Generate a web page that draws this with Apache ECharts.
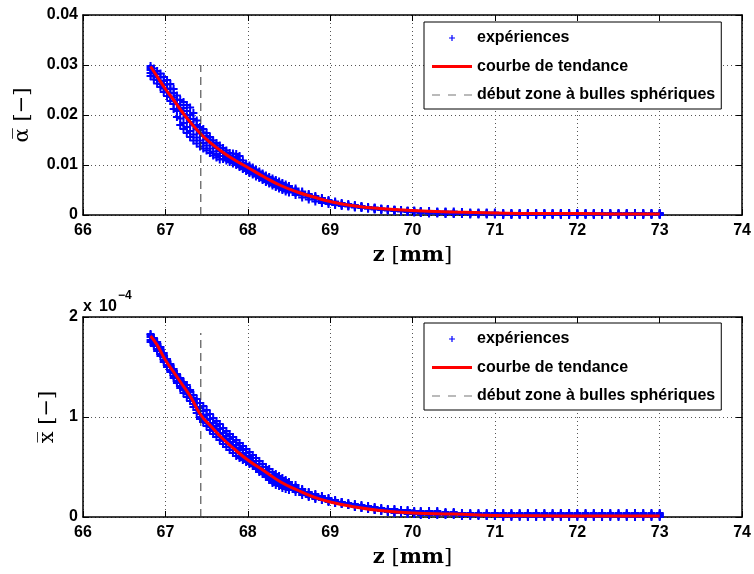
<!DOCTYPE html>
<html>
<head>
<meta charset="utf-8">
<script src="https://cdn.jsdelivr.net/npm/echarts@6/dist/echarts.min.js"></script>
<style>
  html, body { margin: 0; padding: 0; background: #fff; }
  #demo { width: 754px; height: 574px; }
</style>
</head>
<body>
<div id="demo"></div>
<script>
// positions z [mm] des points de mesure
var zExp = [66.82,66.86,66.90,66.94,66.98,67.02,67.06,67.10,67.14,67.18,67.22,67.26,67.30,67.34,67.38,67.42,67.46,67.50,67.54,67.58,67.62,67.66,67.70,67.74,67.78,67.82,67.86,67.90,67.94,67.98,68.02,68.06,68.10,68.14,68.18,68.22,68.26,68.30,68.34,68.38,68.42,68.46,68.50,
  68.58,68.66,68.74,68.82,68.90,68.98,69.06,69.14,69.22,69.30,69.38,69.46,69.54,69.62,69.70,69.78,69.86,69.94,70.02,
  70.1,70.2,70.3,70.4,70.5,70.6,70.7,70.8,70.9,71.0,71.1,71.2,71.3,71.4,71.5,71.6,71.7,71.8,71.9,72.0,72.1,72.2,72.3,72.4,72.5,72.6,72.7,72.8,72.9,73.0];

// alpha : nuage de points, du haut vers le bas
var alphaHaut = [0.0298,0.0293,0.0288,0.0283,0.0276,0.0270,0.0262,0.0252,0.0239,0.0230,0.0226,0.0220,0.0215,0.0204,0.0189,0.0176,0.0172,0.0164,0.0156,0.0149,0.0144,0.0139,0.0134,0.0129,0.0124,0.0123,0.0122,0.0118,0.0109,0.0102,0.0099,0.0095,0.0091,0.0087,0.0083,0.0079,0.0076,0.0073,0.0070,0.0067,0.0064,0.0061,0.0058,
  0.0053,0.0047,0.0042,0.0038,0.0034,0.0030,0.0027,0.0024,0.0022,0.0020,0.0018,0.0016,0.0015,0.0013,0.0012,0.0011,0.0010,0.0009,0.0009,
  0.0008,0.0008,0.0007,0.0007,0.0007,0.0006,0.0005,0.0005,0.0005,0.0005,0.0004,0.0004,0.0004,0.0004,0.0004,0.0004,0.0004,0.0004,0.0004,0.0004,0.0004,0.0004,0.0004,0.0004,0.0004,0.0004,0.0004,0.0004,0.0004,0.0004];
var alphaQ1 = [0.0294,0.0288,0.0282,0.0276,0.0268,0.0261,0.0253,0.0244,0.0231,0.0220,0.0214,0.0208,0.0200,0.0192,0.0180,0.0170,0.0165,0.0158,0.0151,0.0144,0.0139,0.0134,0.0129,0.0124,0.0119,0.0117,0.0114,0.0110,0.0104,0.0099,0.0096,0.0092,0.0088,0.0084,0.0080,0.0076,0.0073,0.0070,0.0067,0.0064,0.0061,0.0058,0.0055,
  0.0050,0.0045,0.0040,0.0036,0.0032,0.0028,0.0025,0.0022,0.0020,0.0018,0.0017,0.0015,0.0014,0.0012,0.0011,0.0010,0.0009,0.0008,0.0008,
  0.0007,0.0007,0.0006,0.0006,0.0005,0.0005,0.0004,0.0004,0.0004,0.0004,0.0003,0.0003,0.0003,0.0003,0.0003,0.0003,0.0003,0.0003,0.0003,0.0003,0.0003,0.0003,0.0003,0.0003,0.0003,0.0003,0.0003,0.0003,0.0003,0.0003];
var alphaMilieu = [0.0290,0.0283,0.0276,0.0268,0.0260,0.0252,0.0244,0.0235,0.0222,0.0210,0.0202,0.0195,0.0186,0.0179,0.0171,0.0163,0.0158,0.0151,0.0145,0.0139,0.0134,0.0128,0.0124,0.0119,0.0114,0.0110,0.0106,0.0102,0.0099,0.0096,0.0092,0.0088,0.0084,0.0080,0.0077,0.0073,0.0070,0.0066,0.0063,0.0060,0.0057,0.0054,0.0051,
  0.0047,0.0042,0.0038,0.0034,0.0030,0.0027,0.0024,0.0021,0.0019,0.0017,0.0016,0.0014,0.0013,0.0012,0.0011,0.0010,0.0009,0.0008,0.0007,
  0.0006,0.0005,0.0005,0.0005,0.0004,0.0004,0.0003,0.0003,0.0003,0.0003,0.0002,0.0002,0.0002,0.0002,0.0002,0.0002,0.0002,0.0002,0.0002,0.0002,0.0002,0.0002,0.0002,0.0002,0.0002,0.0002,0.0002,0.0002,0.0002,0.0002];
var alphaQ3 = [0.0284,0.0277,0.0270,0.0262,0.0253,0.0245,0.0236,0.0222,0.0208,0.0193,0.0184,0.0176,0.0168,0.0161,0.0155,0.0149,0.0144,0.0139,0.0133,0.0127,0.0122,0.0118,0.0118,0.0114,0.0110,0.0106,0.0103,0.0099,0.0095,0.0092,0.0088,0.0084,0.0080,0.0077,0.0073,0.0069,0.0066,0.0062,0.0059,0.0056,0.0053,0.0050,0.0048,
  0.0044,0.0039,0.0035,0.0031,0.0027,0.0025,0.0022,0.0020,0.0018,0.0016,0.0015,0.0013,0.0012,0.0011,0.0010,0.0009,0.0008,0.0007,0.0006,
  0.0005,0.0004,0.0004,0.0003,0.0003,0.0003,0.0002,0.0002,0.0002,0.0002,0.0001,0.0001,0.0001,0.0001,0.0001,0.0001,0.0001,0.0001,0.0001,0.0001,0.0001,0.0001,0.0001,0.0001,0.0001,0.0001,0.0001,0.0001,0.0001,0.0001];
var alphaBas = [0.0278,0.0271,0.0263,0.0256,0.0246,0.0238,0.0228,0.0212,0.0196,0.0180,0.0172,0.0164,0.0156,0.0149,0.0143,0.0137,0.0133,0.0129,0.0124,0.0119,0.0115,0.0111,0.0112,0.0109,0.0106,0.0103,0.0100,0.0096,0.0092,0.0088,0.0084,0.0081,0.0077,0.0074,0.0070,0.0066,0.0063,0.0059,0.0056,0.0053,0.0050,0.0047,0.0045,
  0.0040,0.0035,0.0031,0.0027,0.0024,0.0022,0.0020,0.0018,0.0017,0.0015,0.0014,0.0013,0.0011,0.0010,0.0009,0.0008,0.0007,0.0006,0.0005,
  0.0004,0.0003,0.0003,0.0002,0.0002,0.0002,0.0001,0.0001,0.0001,0.0001,0,0,0,0,0,0,0,0,0,0,0,0,0,0,0,0,0,0,0,0];

// x (en 1e-4) : nuage de points, du haut vers le bas
var xHaut = [1.83,1.79,1.75,1.70,1.64,1.58,1.53,1.48,1.43,1.39,1.35,1.32,1.27,1.22,1.18,1.14,1.11,1.07,1.03,0.99,0.96,0.93,0.89,0.86,0.83,0.80,0.77,0.74,0.71,0.68,0.65,0.62,0.59,0.56,0.53,0.50,0.48,0.45,0.43,0.41,0.39,0.37,0.35,
  0.32,0.28,0.25,0.23,0.21,0.19,0.17,0.15,0.14,0.13,0.12,0.11,0.10,0.09,0.08,0.08,0.07,0.07,0.06,
  0.06,0.06,0.06,0.05,0.05,0.04,0.04,0.04,0.04,0.04,0.04,0.04,0.04,0.04,0.04,0.04,0.04,0.04,0.04,0.04,0.04,0.04,0.04,0.04,0.04,0.04,0.04,0.04,0.04,0.04];
var xQ1 = [1.82,1.77,1.73,1.68,1.62,1.57,1.52,1.46,1.41,1.37,1.33,1.29,1.25,1.19,1.14,1.09,1.06,1.02,0.98,0.94,0.91,0.88,0.84,0.81,0.78,0.75,0.72,0.69,0.67,0.64,0.61,0.59,0.56,0.53,0.50,0.47,0.45,0.42,0.40,0.38,0.36,0.35,0.33,
  0.30,0.27,0.24,0.22,0.20,0.18,0.16,0.15,0.13,0.12,0.11,0.10,0.09,0.08,0.07,0.07,0.06,0.06,0.05,
  0.05,0.05,0.05,0.04,0.04,0.04,0.03,0.03,0.03,0.03,0.03,0.03,0.03,0.03,0.03,0.03,0.03,0.03,0.03,0.03,0.03,0.03,0.03,0.03,0.03,0.03,0.03,0.03,0.03,0.03];
var xMilieu = [1.80,1.75,1.71,1.66,1.60,1.55,1.50,1.44,1.39,1.34,1.30,1.26,1.22,1.16,1.10,1.03,1.00,0.97,0.93,0.89,0.86,0.83,0.79,0.76,0.73,0.70,0.67,0.64,0.62,0.59,0.57,0.55,0.52,0.50,0.47,0.44,0.42,0.39,0.37,0.35,0.33,0.32,0.31,
  0.28,0.25,0.22,0.20,0.18,0.16,0.15,0.14,0.12,0.11,0.10,0.09,0.08,0.07,0.06,0.05,0.05,0.04,0.04,
  0.04,0.04,0.04,0.04,0.04,0.03,0.03,0.02,0.02,0.02,0.02,0.02,0.02,0.02,0.02,0.02,0.02,0.02,0.02,0.02,0.02,0.02,0.02,0.02,0.02,0.02,0.02,0.02,0.02,0.02];
var xQ3 = [1.77,1.73,1.68,1.63,1.57,1.52,1.47,1.41,1.36,1.31,1.27,1.23,1.19,1.13,1.07,1.00,0.97,0.94,0.90,0.86,0.83,0.80,0.76,0.73,0.70,0.67,0.64,0.61,0.59,0.57,0.55,0.53,0.50,0.47,0.45,0.42,0.39,0.36,0.34,0.33,0.31,0.30,0.29,
  0.27,0.24,0.21,0.19,0.17,0.16,0.14,0.13,0.12,0.10,0.09,0.08,0.07,0.06,0.05,0.05,0.04,0.04,0.03,
  0.03,0.03,0.03,0.03,0.03,0.02,0.02,0.02,0.01,0.01,0.01,0.01,0.01,0.01,0.01,0.01,0.01,0.01,0.01,0.01,0.01,0.01,0.01,0.01,0.01,0.01,0.01,0.01,0.01,0.01];
var xBas = [1.75,1.71,1.66,1.61,1.55,1.50,1.45,1.39,1.34,1.29,1.24,1.20,1.16,1.10,1.04,0.98,0.95,0.91,0.87,0.83,0.80,0.77,0.73,0.70,0.67,0.64,0.61,0.59,0.57,0.55,0.53,0.51,0.48,0.45,0.43,0.40,0.37,0.34,0.32,0.31,0.29,0.28,0.27,
  0.25,0.22,0.20,0.18,0.17,0.15,0.14,0.13,0.12,0.10,0.09,0.08,0.07,0.06,0.05,0.04,0.04,0.03,0.03,
  0.02,0.02,0.02,0.02,0.02,0.01,0.01,0.01,0.01,0.01,0,0,0,0,0,0,0,0,0,0,0,0,0,0,0,0,0,0,0,0];

// courbe de tendance
var zTend = [66.82,66.9,67.0,67.1,67.2,67.3,67.43,67.55,67.7,67.85,68.0,68.2,68.4,68.6,68.8,69.0,69.3,69.6,70.0,70.5,71.0,71.5,72.0,72.5,73.0];
var alphaTend = [0.0297,0.0277,0.0252,0.0230,0.0207,0.0186,0.0162,0.0144,0.0125,0.0109,0.0095,0.0076,0.0059,0.0046,0.0036,0.0027,0.0018,0.0013,0.0009,0.0006,0.0004,0.0003,0.0003,0.0002,0.0002];
var xTend = [1.81,1.72,1.57,1.45,1.33,1.21,1.02,0.91,0.78,0.67,0.57,0.46,0.35,0.27,0.20,0.15,0.10,0.065,0.04,0.03,0.015,0.012,0.01,0.01,0.01];

// debut zone a bulles spheriques
var zDebut = 67.43;
var alphaDebut = [0, 0.030];
var xDebut = [0, 1.84];

var zTicks = [66, 74, 1];
var alphaTicks = [0, 0.04, 0.01];
var xTicks = [0, 2, 1];

var noms = ['expériences', 'courbe de tendance', 'début zone à bulles sphériques'];

var plusSymbol = 'path://M0,3h8v2h-8zM3,0h2v8h-2z';
// icones de legende (cadre 40x14)
var iconePlus = 'path://M0,0M40,14M17,6.4h6v1.2h-6zM19.4,4h1.2v6h-1.2z';
var iconeTrait = 'path://M0,0M40,14M0,5.5h40v3h-40z';
var iconeTirets = 'path://M0,0M40,14M0,6.5h8v1h-8zM16,6.5h8v1h-8zM32,6.5h8v1h-8z';
var tickFont = {fontFamily: 'Liberation Sans', fontWeight: 'bold', fontSize: 16, color: '#000'};
var serif = {fontFamily: 'DejaVu Serif', fontSize: 21, color: '#000'};

function nuage(z, rangs) {
    var pts = [];
    rangs.forEach(function (r) {
        for (var i = 0; i < z.length; i++) pts.push([z[i], r[i]]);
    });
    return pts;
}
function paires(z, v) {
    return z.map(function (zz, i) { return [zz, v[i]]; });
}

function axeX(grid, pos, ticks) {
    return {
        gridIndex: grid, type: 'value', position: pos,
        min: ticks[0], max: ticks[1], interval: ticks[2],
        axisLine: {show: true, onZero: false, lineStyle: {color: '#000', width: 1.5}},
        axisTick: {show: true, inside: true, length: 6, lineStyle: {color: '#000'}},
        axisLabel: pos === 'bottom' ? Object.assign({show: true, margin: 8}, tickFont) : {show: false},
        splitLine: pos === 'bottom' ? {show: true, lineStyle: {type: [1, 3], color: '#555'}} : {show: false},
        name: pos === 'bottom' ? '{b|z} [{b|mm}]' : '',
        nameLocation: 'middle', nameGap: 30,
        nameTextStyle: Object.assign({rich: {b: Object.assign({fontWeight: 'bold'}, serif)}}, serif)
    };
}
function axeY(grid, pos, ticks, nom, gap) {
    return {
        gridIndex: grid, type: 'value', position: pos,
        min: ticks[0], max: ticks[1], interval: ticks[2],
        axisLine: {show: true, onZero: false, lineStyle: {color: '#000', width: 1.5}},
        axisTick: {show: true, inside: true, length: 6, lineStyle: {color: '#000'}},
        axisLabel: pos === 'left' ? Object.assign({show: true, margin: 5}, tickFont) : {show: false},
        splitLine: pos === 'left' ? {show: true, lineStyle: {type: [1, 3], color: '#555'}} : {show: false},
        name: nom || '', nameLocation: 'middle', nameGap: gap || 0,
        nameTextStyle: serif
    };
}
function legende(top) {
    return {
        left: 424, top: top, orient: 'vertical',
        itemWidth: 40, itemHeight: 14, itemGap: 12.5,
        padding: [8, 6, 6, 8],
        borderColor: '#000', borderWidth: 1, backgroundColor: '#fff',
        textStyle: tickFont,
        data: [
            {name: noms[0], icon: iconePlus},
            {name: noms[1], icon: iconeTrait},
            {name: noms[2], icon: iconeTirets}
        ]
    };
}
function series(xi, yi, rangs, tend, debut) {
    return [
        {
            name: noms[0], type: 'scatter', xAxisIndex: xi, yAxisIndex: yi,
            symbol: plusSymbol, symbolSize: 8,
            itemStyle: {color: '#0000ff', opacity: 1},
            data: nuage(zExp, rangs)
        },
        {
            name: noms[1], type: 'line', xAxisIndex: xi, yAxisIndex: yi,
            smooth: true, symbol: 'none',
            lineStyle: {color: '#ff0000', width: 3},
            itemStyle: {color: '#ff0000'},
            data: paires(zTend, tend)
        },
        {
            name: noms[2], type: 'line', xAxisIndex: xi, yAxisIndex: yi,
            symbol: 'none',
            lineStyle: {color: '#333', width: 1, type: [8, 5]},
            itemStyle: {color: '#777'},
            data: [[zDebut, debut[0]], [zDebut, debut[1]]]
        }
    ];
}

var myCharts = echarts.init(document.getElementById('demo'));
myCharts.setOption({
    animation: false,
    backgroundColor: '#fff',
    grid: [
        {left: 83, top: 15, width: 660, height: 200},
        {left: 83, top: 317, width: 660, height: 200}
    ],
    xAxis: [axeX(0, 'bottom', zTicks), axeX(0, 'top', zTicks), axeX(1, 'bottom', zTicks), axeX(1, 'top', zTicks)],
    yAxis: [
        axeY(0, 'left', alphaTicks, 'α̅ [−]', 50), axeY(0, 'right', alphaTicks),
        axeY(1, 'left', xTicks, 'x̅ [−]', 24), axeY(1, 'right', xTicks)
    ],
    legend: [legende(22), legende(323)],
    graphic: [
        {type: 'text', x: 83, y: 299, style: {text: 'x', font: 'bold 16px "Liberation Sans"', fill: '#000'}},
        {type: 'text', x: 99, y: 299, style: {text: '10', font: 'bold 16px "Liberation Sans"', fill: '#000'}},
        {type: 'text', x: 118, y: 290, style: {text: '−4', font: 'bold 12px "Liberation Sans"', fill: '#000'}}
    ],
    series: series(0, 0, [alphaHaut, alphaQ1, alphaMilieu, alphaQ3, alphaBas], alphaTend, alphaDebut)
        .concat(series(2, 2, [xHaut, xQ1, xMilieu, xQ3, xBas], xTend, xDebut))
});
</script>
</body>
</html>
